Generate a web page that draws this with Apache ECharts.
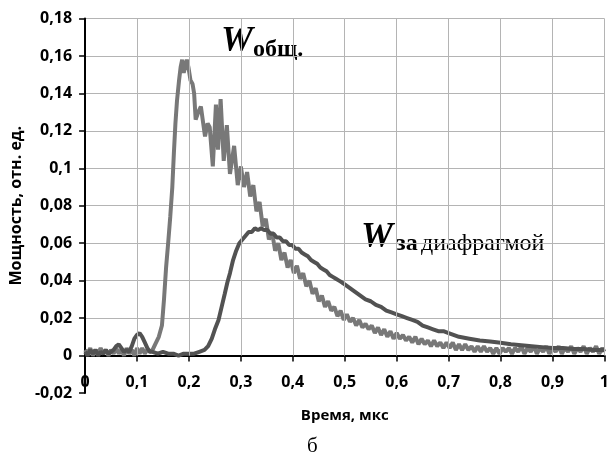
<!DOCTYPE html>
<html>
<head>
<meta charset="utf-8">
<script src="https://cdn.jsdelivr.net/npm/echarts@6/dist/echarts.min.js"></script>
<style>html,body{margin:0;padding:0;background:#fff}#c{width:612px;height:460px}</style>
</head>
<body>
<div id="c"></div>
<script>
// W общ. (total power)
var totalT = [0,0.005,0.01,0.015,0.02,0.025,0.03,0.035,0.04,0.045,0.05,0.055,0.06,0.065,0.07,0.075,0.08,0.085,0.09,0.095,0.1,0.105,0.11,0.115,0.12,0.125,0.13,
  0.135,0.142,0.148,0.152,0.156,0.16,0.164,0.168,0.171,0.174,0.177,0.181,0.184,0.187,0.19,0.193,0.196,0.199,0.203,0.207,0.21,0.213,0.218,0.223,0.227,0.231,0.236,0.24,0.246,0.252,0.256,0.261,0.267,0.273,0.279,0.287,0.294,
  0.3,0.306,0.312,0.318,0.324,0.33,0.336,0.342,0.348,0.354,0.36,0.366,0.372,0.378,0.384,0.39,0.396,0.402,0.408,0.414,0.42,0.426,0.432,0.438,0.444,0.45,0.456,0.462,0.468,0.474,0.48,0.486,0.492,0.498,
  0.504,0.51,0.516,0.522,0.528,0.534,0.54,0.546,0.552,0.558,0.564,0.57,0.576,0.582,0.588,0.594,0.6,0.606,0.612,0.618,0.624,0.63,0.636,0.642,0.648,0.654,0.66,0.666,0.672,0.678,0.684,0.69,0.696,
  0.702,0.708,0.714,0.72,0.726,0.732,0.738,0.744,0.75,0.756,0.762,0.768,0.774,0.78,0.786,0.792,0.798,0.804,0.81,0.816,0.822,0.828,0.834,0.84,0.846,0.852,0.858,0.864,0.87,0.876,0.882,0.888,0.894,
  0.9,0.906,0.912,0.918,0.924,0.93,0.936,0.942,0.948,0.954,0.96,0.966,0.972,0.978,0.984,0.99,0.996,1.0];
var totalP = [0.003,0.001,0.004,0.000,0.003,0.001,0.004,0.001,0.003,0.000,0.003,0.001,0.004,0.001,0.003,0.000,0.004,0.001,0.003,0.000,0.004,0.001,0.004,0.001,0.003,0.002,0.003,
  0.006,0.010,0.016,0.030,0.047,0.060,0.074,0.090,0.108,0.124,0.136,0.147,0.154,0.158,0.151,0.152,0.158,0.154,0.147,0.145,0.140,0.126,0.130,0.133,0.125,0.117,0.124,0.122,0.101,0.134,0.110,0.137,0.104,0.123,0.097,0.112,0.091,
  0.101,0.090,0.098,0.085,0.091,0.077,0.082,0.069,0.073,0.062,0.066,0.056,0.060,0.051,0.055,0.047,0.051,0.044,0.048,0.041,0.044,0.037,0.040,0.033,0.036,0.029,0.032,0.026,0.029,0.024,0.026,0.021,0.024,0.019,
  0.022,0.018,0.020,0.016,0.019,0.015,0.017,0.014,0.016,0.012,0.015,0.011,0.014,0.010,0.013,0.009,0.012,0.009,0.011,0.008,0.010,0.007,0.010,0.006,0.009,0.006,0.008,0.005,0.008,0.005,0.007,0.004,0.007,
  0.004,0.007,0.003,0.006,0.003,0.006,0.003,0.005,0.002,0.005,0.002,0.005,0.002,0.004,0.001,0.004,0.001,0.004,0.002,0.004,0.001,0.004,0.002,0.005,0.001,0.004,0.002,0.005,0.001,0.004,0.002,0.005,0.001,
  0.004,0.002,0.005,0.001,0.004,0.002,0.005,0.001,0.004,0.002,0.005,0.001,0.004,0.002,0.005,0.001,0.004,0.002];

// W за диафрагмой (power behind the aperture)
var apertureT = [0,0.005,0.01,0.015,0.02,0.025,0.03,0.035,0.04,0.045,0.05,0.055,0.06,0.065,0.07,0.075,0.08,0.085,0.09,0.095,0.1,0.105,0.11,0.115,0.12,0.125,0.13,0.14,0.15,0.16,0.17,0.18,0.19,0.2,0.21,0.22,0.23,
  0.237,0.244,0.25,0.257,0.263,0.269,0.274,0.279,0.285,0.291,0.297,0.303,0.309,0.315,0.321,0.327,0.333,0.339,0.345,0.351,0.357,0.363,0.369,0.375,0.381,0.387,0.393,0.399,0.405,0.411,0.417,0.423,0.429,0.435,0.441,0.447,0.453,0.459,0.465,0.471,0.477,0.483,0.489,0.495,
  0.5,0.51,0.52,0.53,0.54,0.55,0.56,0.57,0.58,0.59,0.6,0.61,0.62,0.63,0.64,0.65,0.66,0.67,0.68,0.69,0.7,0.72,0.74,0.76,0.78,0.8,0.82,0.84,0.86,0.88,0.9,0.92,0.94,0.96,0.98,1.0];
var apertureP = [0.002,0.000,0.003,0.001,0.003,0.000,0.002,0.001,0.003,0.001,0.002,0.003,0.005,0.006,0.004,0.002,0.003,0.002,0.005,0.009,0.011,0.012,0.010,0.007,0.004,0.002,0.002,0.001,0.002,0.001,0.001,0.000,0.001,0.001,0.001,0.002,0.003,
  0.005,0.009,0.014,0.019,0.026,0.033,0.039,0.044,0.051,0.056,0.060,0.062,0.064,0.066,0.066,0.068,0.067,0.068,0.067,0.067,0.065,0.065,0.063,0.063,0.061,0.061,0.059,0.059,0.057,0.057,0.055,0.054,0.053,0.051,0.050,0.049,0.047,0.046,0.045,0.043,0.042,0.041,0.040,0.039,
  0.038,0.036,0.034,0.032,0.030,0.029,0.027,0.026,0.024,0.023,0.022,0.021,0.020,0.019,0.018,0.016,0.015,0.014,0.013,0.013,0.012,0.010,0.009,0.008,0.0075,0.0068,0.006,0.0055,0.005,0.0045,0.004,0.004,0.0035,0.0035,0.003,0.003];

var xTicks = [0.1,0.2,0.3,0.4,0.5,0.6,0.7,0.8,0.9,1.0];
var yTop = 0.18;

function zip(a, b) { return a.map(function (v, i) { return [v, b[i]]; }); }
function fmt(v) { return String(Math.round(v * 100) / 100).replace('.', ','); }

var labelFont = { fontFamily: 'Open Sans', fontWeight: 'bold', fontSize: 16, color: '#000' };
var gridTop = 18.5, gridBottom = 67, H = 460;
var stepPx = (H - gridTop - gridBottom) / 10; // one 0.02 step: x axis sits at y = 0
var chart = echarts.init(document.getElementById('c'), null, { renderer: 'canvas' });
chart.setOption({
  animation: false,
  backgroundColor: '#fff',
  grid: { left: 83, right: 7, top: gridTop, bottom: gridBottom },
  xAxis: {
    type: 'value', min: 0, max: 1, interval: 0.1,
    offset: -stepPx,
    name: 'Время, мкс', nameLocation: 'middle', nameGap: 53,
    nameTextStyle: { fontFamily: 'Open Sans', fontWeight: 'bold', fontSize: 15, color: '#000' },
    axisLine: { show: true, onZero: false, lineStyle: { color: '#000', width: 2 } },
    axisTick: { show: true, inside: false, length: 6, lineStyle: { color: '#000', width: 1.5 } },
    axisLabel: Object.assign({ margin: 19, formatter: fmt }, labelFont),
    splitLine: { show: false }
  },
  yAxis: {
    type: 'value', min: -0.02, max: 0.18, interval: 0.02,
    name: 'Мощность, отн. ед.', nameLocation: 'middle', nameGap: 56,
    nameTextStyle: { fontFamily: 'Open Sans', fontWeight: 'bold', fontSize: 16, color: '#000' },
    axisLine: { show: true, onZero: false, lineStyle: { color: '#000', width: 2 } },
    axisTick: { show: true, inside: false, length: 6, lineStyle: { color: '#000', width: 1.5 } },
    axisLabel: Object.assign({ margin: 13, formatter: fmt }, labelFont),
    splitLine: { show: true, showMinLine: false, lineStyle: { color: '#b4b4b4', width: 1 } }
  },
  series: [
    {
      type: 'line', z: 1, silent: true, showSymbol: false, data: [[0, 0]],
      lineStyle: { opacity: 0 },
      markLine: {
        silent: true, symbol: 'none', label: { show: false },
        lineStyle: { color: '#b4b4b4', width: 1, type: 'solid' },
        data: xTicks.map(function (t) { return [{ coord: [t, 0] }, { coord: [t, yTop] }]; })
      }
    },
    {
      name: 'W общ.', type: 'line', z: 3, showSymbol: false, data: zip(totalT, totalP),
      lineStyle: { color: '#787878', width: 4 }
    },
    {
      name: 'W за диафрагмой', type: 'line', z: 4, showSymbol: false, data: zip(apertureT, apertureP),
      lineStyle: { color: '#525252', width: 4 }
    }
  ],
  graphic: [
    { type: 'text', left: 221, top: 24, style: { text: 'W', font: 'italic bold 36px "Liberation Serif"', fill: '#000' } },
    { type: 'text', left: 253, top: 38, style: { text: 'общ.', font: 'bold 24px "Liberation Serif"', fill: '#000' } },
    { type: 'text', left: 361, top: 220, style: { text: 'W', font: 'italic bold 36px "Liberation Serif"', fill: '#000' } },
    { type: 'text', left: 396, top: 232, style: { text: '{b|за} {r|диафрагмой}', rich: {
        b: { font: 'bold 24px "Liberation Serif"', fill: '#000', color: '#000' },
        r: { font: '24px "Liberation Serif"', fill: '#000', color: '#000' } } } },
    { type: 'text', left: 307, top: 436, style: { text: 'б', font: '21px "Liberation Serif"', fill: '#000' } }
  ]
});
</script>
</body>
</html>
